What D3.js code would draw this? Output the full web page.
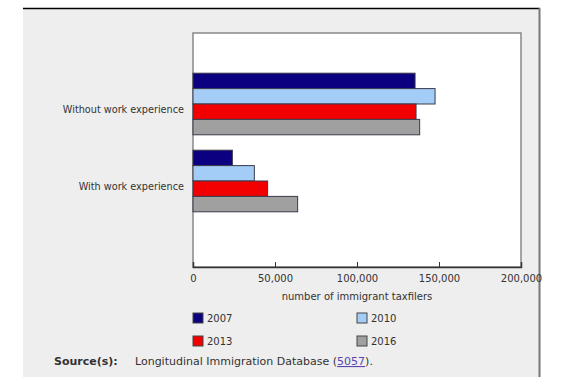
<!DOCTYPE html>
<html>
<head>
<meta charset="utf-8">
<script src="https://cdn.jsdelivr.net/npm/d3@7"></script>
<style>
  body { margin: 0; background: #fff; }
  svg { display: block; font-family: "DejaVu Sans", Verdana, sans-serif; }
</style>
</head>
<body>
<div id="chart"></div>
<script>
// data
const categories = ["Without work experience", "With work experience"];
const years = ["2007", "2010", "2013", "2016"];
const withoutWork = [135400, 147600, 136000, 138200];
const withWork = [24000, 37400, 45500, 63800];
const ticks = [0, 50000, 100000, 150000, 200000];
const colors = ["#0b0080", "#a3cdf7", "#f20000", "#a0a0a0"];

const width = 580, height = 377;
const plot = {left: 193, right: 521, top: 33, bottom: 267};

const svg = d3.select("#chart").append("svg")
  .attr("width", width).attr("height", height);

// gray panel
svg.append("rect").attr("x", 23).attr("y", 8).attr("width", 516).attr("height", 369)
  .attr("fill", "#eeeeee");
svg.append("line").attr("x1", 23).attr("x2", 540).attr("y1", 8.5).attr("y2", 8.5)
  .attr("stroke", "#000").attr("stroke-width", 1.5);
svg.append("line").attr("x1", 539.5).attr("x2", 539.5).attr("y1", 8).attr("y2", 377)
  .attr("stroke", "#777").attr("stroke-width", 2);

// plot area
svg.append("rect")
  .attr("x", plot.left).attr("y", plot.top)
  .attr("width", plot.right - plot.left).attr("height", plot.bottom - plot.top)
  .attr("fill", "#fff").attr("stroke", "#888").attr("stroke-width", 1.5);

const x = d3.scaleLinear().domain([0, 200000]).range([plot.left, plot.right]);
const y0 = d3.scaleBand().domain(categories).range([65.5, 219.5])
  .paddingInner(0.2).paddingOuter(0.1);
const y1 = d3.scaleBand().domain(years).range([0, y0.bandwidth()]);

const table = categories.map((c, i) => ({
  name: c,
  values: years.map((yr, j) => ({year: yr, value: (i === 0 ? withoutWork : withWork)[j], color: colors[j]}))
}));

const group = svg.selectAll("g.grp").data(table).join("g")
  .attr("class", "grp")
  .attr("transform", d => `translate(0,${y0(d.name)})`);

group.selectAll("rect").data(d => d.values).join("rect")
  .attr("x", x(0))
  .attr("y", d => y1(d.year))
  .attr("width", d => x(d.value) - x(0))
  .attr("height", y1.bandwidth())
  .attr("fill", d => d.color)
  .attr("stroke", "#3a3a4a").attr("stroke-width", 1);

// category labels
svg.selectAll("text.cat").data(categories).join("text")
  .attr("class", "cat")
  .attr("x", 184)
  .attr("y", d => y0(d) + y0.bandwidth() / 2 + 8.5)
  .attr("text-anchor", "end")
  .attr("font-size", 9.7)
  .attr("fill", "#333")
  .text(d => d);

// x axis
const xAxis = svg.append("g").attr("transform", `translate(0,${plot.bottom})`)
  .call(d3.axisBottom(x).tickValues(ticks).tickSize(-5).tickPadding(8)
    .tickFormat(d3.format(",")));
xAxis.select(".domain").attr("stroke", "#333").attr("stroke-width", 1.5);
xAxis.selectAll(".tick line").attr("stroke", "#333");
xAxis.selectAll("text").attr("font-size", 10).attr("fill", "#333")
  .attr("font-family", "DejaVu Sans, Verdana, sans-serif");

svg.append("text")
  .attr("x", (plot.left + plot.right) / 2).attr("y", 300)
  .attr("text-anchor", "middle").attr("font-size", 10).attr("fill", "#333")
  .text("number of immigrant taxfilers");

// legend
const legend = svg.selectAll("g.leg").data(years).join("g")
  .attr("class", "leg")
  .attr("transform", (d, i) => `translate(${i % 2 === 0 ? 193 : 357},${i < 2 ? 313 : 336})`);
legend.append("rect")
  .attr("width", 10).attr("height", 10)
  .attr("fill", (d, i) => colors[i])
  .attr("stroke", "#444").attr("stroke-width", 1);
legend.append("text")
  .attr("x", 14).attr("y", 9)
  .attr("font-size", 10).attr("fill", "#333")
  .text(d => d);

// source
const src = svg.append("text").attr("x", 54).attr("y", 365)
  .attr("font-size", 11).attr("fill", "#333");
src.append("tspan").attr("font-weight", "bold").text("Source(s):");
src.append("tspan").attr("x", 135).text("Longitudinal Immigration Database (");
src.append("tspan").attr("fill", "#5a45b0").attr("text-decoration", "underline").text("5057");
src.append("tspan").text(").");
</script>
</body>
</html>
